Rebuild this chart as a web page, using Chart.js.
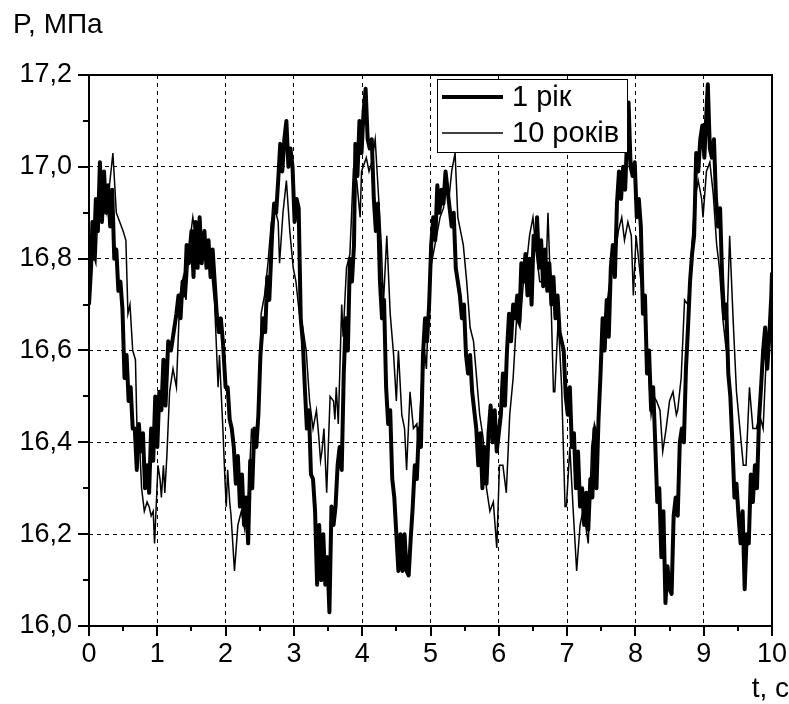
<!DOCTYPE html>
<html>
<head>
<meta charset="utf-8">
<script src="https://cdn.jsdelivr.net/npm/chart.js@4/dist/chart.umd.min.js"></script>
<style>
    html, body { margin: 0; padding: 0; background: #fff; }
    #wrap { width: 789px; height: 704px; position: relative; }
</style>
</head>
<body>
<div id="wrap"><canvas id="pressureChart" width="789" height="704"></canvas></div>
<script>
// Pressure, 1 year of service (thick line)
const tThick = [
    0.00,0.03,0.05,0.07,0.10,0.13,0.16,0.19,0.22,0.25,0.28,0.31,0.34,0.37,0.40,0.43,0.46,0.49,0.52,0.55,0.58,0.61,0.64,0.67,0.70,0.73,0.76,0.79,0.82,0.85,0.88,0.91,0.94,0.97,
    1.00,1.03,1.06,1.09,1.12,1.16,1.20,1.24,1.28,1.31,1.34,1.37,1.40,1.43,1.46,1.50,1.53,1.56,1.59,1.62,1.65,1.69,1.72,1.75,1.78,1.81,1.84,1.87,1.90,1.93,1.96,
    2.00,2.03,2.06,2.09,2.12,2.15,2.18,2.21,2.24,2.27,2.30,2.33,2.36,2.39,2.42,2.45,2.48,2.51,2.55,2.58,2.61,2.64,2.68,2.71,2.74,2.77,2.80,2.83,2.86,2.89,2.92,2.95,2.98,
    3.01,3.04,3.07,3.10,3.13,3.16,3.19,3.22,3.25,3.28,3.31,3.34,3.37,3.40,3.43,3.46,3.49,3.52,3.55,3.58,3.61,3.64,3.67,3.70,3.73,3.76,3.79,3.82,3.85,3.88,3.90,3.93,3.96,3.99,
    4.02,4.05,4.08,4.11,4.14,4.17,4.20,4.23,4.26,4.29,4.32,4.35,4.38,4.41,4.44,4.47,4.50,4.53,4.56,4.59,4.62,4.65,4.68,4.71,4.74,4.77,4.80,4.83,4.86,4.89,4.92,4.95,4.98,
    5.01,5.04,5.07,5.10,5.13,5.16,5.19,5.22,5.25,5.28,5.31,5.34,5.37,5.40,5.43,5.46,5.49,5.52,5.55,5.58,5.61,5.64,5.67,5.70,5.73,5.76,5.79,5.82,5.85,5.88,5.91,5.94,5.97,
    6.00,6.03,6.06,6.09,6.12,6.15,6.18,6.21,6.24,6.27,6.30,6.33,6.36,6.39,6.42,6.45,6.48,6.51,6.54,6.56,6.59,6.62,6.65,6.68,6.71,6.74,6.77,6.80,6.83,6.86,6.89,6.92,6.95,6.98,
    7.01,7.04,7.07,7.10,7.13,7.16,7.19,7.22,7.25,7.28,7.31,7.34,7.37,7.40,7.43,7.46,7.49,7.52,7.55,7.58,7.61,7.64,7.67,7.70,7.73,7.76,7.79,7.82,7.85,7.88,7.90,7.93,7.96,7.99,
    8.02,8.05,8.08,8.11,8.14,8.17,8.20,8.23,8.26,8.29,8.32,8.35,8.38,8.41,8.44,8.47,8.50,8.53,8.56,8.59,8.62,8.65,8.68,8.71,8.74,8.77,8.80,8.83,8.86,8.89,8.92,8.95,8.98,
    9.01,9.04,9.06,9.09,9.12,9.15,9.18,9.21,9.24,9.27,9.30,9.33,9.36,9.39,9.42,9.45,9.48,9.51,9.54,9.57,9.60,9.63,9.66,9.69,9.72,9.75,9.78,9.81,9.84,9.87,9.90,9.93,9.96,9.99,10.00
];
const pThick = [
    16.70,16.78,16.88,16.80,16.93,16.86,17.01,16.88,16.99,16.90,16.96,16.87,16.95,16.80,16.82,16.73,16.75,16.69,16.54,16.59,16.49,16.52,16.43,16.43,16.34,16.44,16.38,16.42,16.30,16.35,16.29,16.43,16.36,16.50,
    16.39,16.51,16.47,16.58,16.48,16.62,16.60,16.64,16.68,16.72,16.67,16.75,16.72,16.83,16.79,16.86,16.76,16.88,16.78,16.89,16.79,16.86,16.78,16.84,16.76,16.82,16.75,16.68,16.64,16.67,16.62,
    16.52,16.52,16.45,16.43,16.39,16.31,16.37,16.26,16.33,16.22,16.28,16.18,16.36,16.30,16.43,16.39,16.46,16.59,16.67,16.64,16.76,16.71,16.85,16.92,16.90,16.97,17.05,16.99,17.06,17.10,17.00,17.04,17.00,
    16.88,16.93,16.91,16.67,16.62,16.52,16.43,16.47,16.33,16.32,16.25,16.09,16.22,16.10,16.20,16.09,16.15,16.03,16.26,16.22,16.26,16.35,16.39,16.34,16.55,16.67,16.60,16.80,16.75,16.83,17.05,16.98,17.10,17.03,
    17.12,17.17,17.06,17.04,17.06,16.93,16.86,16.92,16.75,16.67,16.71,16.52,16.44,16.47,16.32,16.28,16.20,16.12,16.20,16.12,16.20,16.12,16.11,16.19,16.26,16.35,16.32,16.43,16.39,16.59,16.67,16.62,16.70,
    16.83,16.89,16.84,16.96,16.90,16.95,16.92,16.99,16.95,16.91,16.87,16.90,16.78,16.75,16.72,16.67,16.70,16.59,16.55,16.59,16.51,16.47,16.43,16.35,16.42,16.30,16.39,16.31,16.42,16.48,16.40,16.47,16.38,
    16.42,16.46,16.55,16.48,16.60,16.68,16.62,16.70,16.67,16.72,16.66,16.79,16.75,16.81,16.72,16.80,16.70,16.85,16.82,16.89,16.78,16.84,16.74,16.82,16.73,16.79,16.70,16.76,16.67,16.72,16.64,16.62,16.60,16.50,
    16.46,16.52,16.39,16.42,16.30,16.38,16.26,16.30,16.22,16.29,16.21,16.32,16.28,16.43,16.30,16.45,16.55,16.67,16.60,16.71,16.63,16.78,16.83,16.76,16.92,16.99,16.93,17.00,16.95,17.07,17.14,17.00,16.98,17.01,
    16.89,16.93,16.87,16.68,16.72,16.55,16.60,16.47,16.52,16.40,16.27,16.30,16.15,16.25,16.05,16.13,16.08,16.07,16.24,16.28,16.24,16.40,16.43,16.40,16.56,16.65,16.75,16.81,16.85,17.03,16.99,17.06,17.09,
    17.02,17.12,17.18,17.04,17.02,17.06,16.93,16.87,16.91,16.76,16.67,16.70,16.55,16.50,16.40,16.28,16.31,16.24,16.18,16.25,16.08,16.20,16.18,16.33,16.27,16.35,16.30,16.45,16.52,16.60,16.65,16.56,16.63,16.72,16.77
];

// Pressure, 10 years of service (thin line)
const tThin = [
    0.00,0.03,0.06,0.08,0.10,0.13,0.16,0.19,0.22,0.26,0.30,0.35,0.40,0.45,0.50,0.54,0.57,0.60,0.64,0.68,0.71,0.74,0.77,0.81,0.85,0.88,0.91,0.94,0.96,
    1.01,1.04,1.06,1.09,1.11,1.14,1.18,1.23,1.28,1.33,1.38,1.42,1.47,1.52,1.57,1.62,1.69,1.74,1.79,1.84,1.89,1.91,1.96,1.99,
    2.01,2.03,2.06,2.08,2.13,2.18,2.23,2.28,2.33,2.38,2.42,2.47,2.50,2.52,2.57,2.62,2.67,2.72,2.77,2.79,2.84,2.89,2.94,2.99,
    3.03,3.08,3.13,3.18,3.23,3.28,3.33,3.36,3.39,3.41,3.44,3.46,3.48,3.53,3.58,3.60,3.62,3.65,3.70,3.72,3.77,3.82,3.87,3.92,3.97,3.99,
    4.06,4.10,4.14,4.19,4.23,4.28,4.31,4.36,4.41,4.46,4.50,4.53,4.58,4.62,4.65,4.70,4.75,4.80,4.82,4.87,4.92,4.94,4.99,
    5.04,5.09,5.14,5.19,5.23,5.27,5.31,5.36,5.40,5.44,5.48,5.53,5.58,5.63,5.67,5.72,5.77,5.82,5.87,5.92,5.97,
    6.01,6.06,6.11,6.16,6.21,6.26,6.31,6.36,6.40,6.45,6.50,6.55,6.60,6.65,6.70,6.72,6.77,6.80,6.82,6.87,6.92,6.97,6.99,
    7.04,7.09,7.14,7.19,7.23,7.27,7.31,7.36,7.40,7.45,7.50,7.55,7.60,7.65,7.70,7.75,7.80,7.84,7.89,7.94,7.97,
    8.01,8.06,8.14,8.19,8.23,8.27,8.31,8.36,8.40,8.45,8.50,8.55,8.60,8.62,8.67,8.72,8.77,8.82,8.87,8.92,8.97,8.99,
    9.04,9.09,9.14,9.19,9.23,9.28,9.33,9.38,9.43,9.48,9.53,9.58,9.62,9.67,9.72,9.77,9.82,9.87,9.92,9.97,10.00
];
const pThin = [
    16.78,16.82,16.86,16.80,16.79,16.90,16.94,16.88,16.93,16.90,16.96,17.03,16.90,16.88,16.86,16.84,16.68,16.70,16.60,16.58,16.38,16.40,16.30,16.25,16.27,16.26,16.24,16.25,16.18,
    16.35,16.32,16.28,16.35,16.29,16.37,16.51,16.56,16.52,16.72,16.76,16.71,16.83,16.89,16.84,16.81,16.84,16.78,16.78,16.70,16.52,16.59,16.43,16.32,
    16.26,16.34,16.27,16.24,16.12,16.22,16.25,16.21,16.27,16.43,16.39,16.45,16.51,16.68,16.72,16.79,16.88,16.91,16.88,16.79,16.90,16.97,16.86,16.78,
    16.75,16.68,16.65,16.60,16.49,16.43,16.47,16.42,16.36,16.38,16.43,16.36,16.29,16.50,16.49,16.45,16.52,16.44,16.70,16.63,16.78,16.81,16.99,16.97,16.89,16.99,
    17.02,16.99,17.01,17.06,16.96,16.83,16.70,16.85,16.68,16.59,16.49,16.60,16.46,16.43,16.34,16.51,16.43,16.44,16.39,16.53,16.59,16.56,16.77,
    16.81,16.85,16.89,16.91,16.97,16.93,16.99,17.03,16.89,16.86,16.83,16.75,16.65,16.62,16.55,16.46,16.41,16.30,16.25,16.27,16.17,
    16.35,16.35,16.29,16.46,16.54,16.67,16.65,16.75,16.78,16.85,16.89,16.81,16.75,16.75,16.81,16.90,16.68,16.51,16.51,16.67,16.52,16.26,16.26,
    16.39,16.25,16.12,16.22,16.25,16.22,16.18,16.39,16.44,16.41,16.60,16.67,16.72,16.78,16.80,16.86,16.89,16.84,16.88,16.85,16.72,
    16.85,16.78,16.67,16.56,16.46,16.50,16.49,16.47,16.38,16.43,16.49,16.51,16.46,16.47,16.54,16.71,16.70,16.81,16.93,16.97,16.93,16.89,
    16.99,17.01,16.94,16.83,16.78,16.67,16.60,16.85,16.67,16.51,16.43,16.35,16.35,16.52,16.43,16.43,16.46,16.43,16.60,16.62,16.70
];

const seriesNames = ['1 рік', '10 років'];
const xTicks = [0, 1, 2, 3, 4, 5, 6, 7, 8, 9, 10];
const yTicks = [16.0, 16.2, 16.4, 16.6, 16.8, 17.0, 17.2];
const yLabel = 'P, МПа';
const xLabel = 't, c';

const FONT = '"Liberation Sans", Arial, sans-serif';

function toPoints(ts, ps) {
    return ts.map((t, i) => ({ x: t, y: ps[i] }));
}

// Frame, outward ticks, legend box and axis captions
const decorations = {
    id: 'decorations',
    afterDraw(chart) {
        const { ctx, chartArea: a, scales: { x, y } } = chart;
        ctx.save();
        ctx.strokeStyle = '#000';
        ctx.setLineDash([]);

        // minor + major ticks on x axis
        ctx.lineWidth = 2;
        for (let i = 0; i <= 20; i++) {
            const px = Math.round(x.getPixelForValue(i / 2));
            const len = i % 2 === 0 ? 10 : 5;
            ctx.beginPath();
            ctx.moveTo(px, a.bottom);
            ctx.lineTo(px, a.bottom + len);
            ctx.stroke();
        }
        // minor + major ticks on y axis
        for (let i = 0; i <= 12; i++) {
            const py = Math.round(y.getPixelForValue(16 + i / 10));
            const len = i % 2 === 0 ? 11 : 6;
            ctx.beginPath();
            ctx.moveTo(a.left, py);
            ctx.lineTo(a.left - len, py);
            ctx.stroke();
        }

        // plot frame
        ctx.lineWidth = 2;
        ctx.strokeRect(a.left, a.top, a.right - a.left, a.bottom - a.top);

        // legend
        const lx = 437, ly = 79, lw = 190, lh = 73;
        ctx.fillStyle = '#fff';
        ctx.fillRect(lx, ly, lw, lh);
        ctx.lineWidth = 1;
        ctx.strokeRect(lx + 0.5, ly + 0.5, lw, lh);
        chart.data.datasets.forEach((ds, i) => {
            const yy = ly + 18 + i * 36;
            ctx.lineWidth = ds.borderWidth;
            ctx.beginPath();
            ctx.moveTo(lx + 5, yy);
            ctx.lineTo(lx + 66, yy);
            ctx.stroke();
            ctx.fillStyle = '#000';
            ctx.font = '29px ' + FONT;
            ctx.textAlign = 'left';
            ctx.textBaseline = 'middle';
            ctx.fillText(ds.label, lx + 75, yy + 1);
        });

        // axis captions
        ctx.fillStyle = '#000';
        ctx.font = '28px ' + FONT;
        ctx.textAlign = 'left';
        ctx.textBaseline = 'middle';
        ctx.fillText(yLabel, 13, 25);
        ctx.textAlign = 'right';
        ctx.fillText(xLabel, 789, 689);
        ctx.restore();
    }
};

const ctx = document.getElementById('pressureChart').getContext('2d');
new Chart(ctx, {
    type: 'line',
    data: {
        datasets: [
            {
                label: seriesNames[0],
                data: toPoints(tThick, pThick),
                borderColor: '#000',
                borderWidth: 4,
                pointRadius: 0,
                tension: 0,
                borderJoinStyle: 'round'
            },
            {
                label: seriesNames[1],
                data: toPoints(tThin, pThin),
                borderColor: '#000',
                borderWidth: 1.5,
                pointRadius: 0,
                tension: 0
            }
        ]
    },
    options: {
        responsive: false,
        animation: false,
        layout: {
            padding: { left: 0, top: 75, right: 17, bottom: 0 }
        },
        plugins: {
            legend: { display: false },
            tooltip: { enabled: false }
        },
        scales: {
            x: {
                type: 'linear',
                min: 0,
                max: 10,
                afterBuildTicks: function(scale) {
                    scale.ticks = xTicks.map(v => ({ value: v }));
                },
                ticks: {
                    color: '#000',
                    font: { family: FONT, size: 27 },
                    padding: 12,
                    maxRotation: 0,
                    callback: function(value) {
                        return String(value);
                    }
                },
                grid: {
                    color: '#000',
                    lineWidth: 1,
                    drawTicks: false
                },
                border: { display: false, dash: [4, 4] },
                afterFit: function(scale) {
                    scale.height = 78;
                    scale.paddingLeft = 0;
                    scale.paddingRight = 0;
                }
            },
            y: {
                min: 16,
                max: 17.2,
                afterBuildTicks: function(scale) {
                    scale.ticks = yTicks.map(v => ({ value: v }));
                },
                ticks: {
                    color: '#000',
                    font: { family: FONT, size: 27 },
                    padding: 17,
                    callback: function(value) {
                        return value.toFixed(1).replace('.', ',');
                    }
                },
                grid: {
                    color: '#000',
                    lineWidth: 1,
                    drawTicks: false
                },
                border: { display: false, dash: [4, 4] },
                afterFit: function(scale) {
                    scale.width = 89;
                }
            }
        }
    },
    plugins: [decorations]
});
</script>
</body>
</html>
